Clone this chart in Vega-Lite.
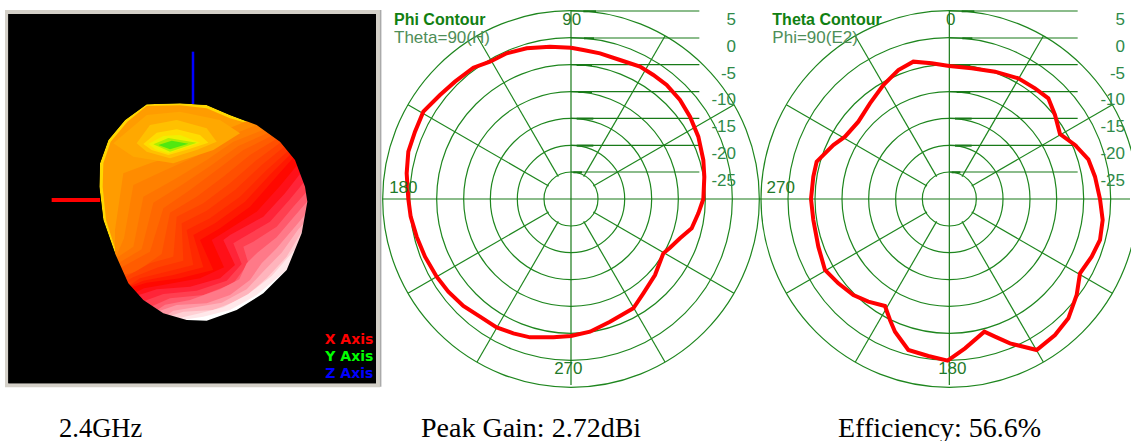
{
"$schema":"https://vega.github.io/schema/vega-lite/v6.json",
"padding":0,"spacing":0,"bounds":"flush","background":"white",
"config":{"view":{"stroke":null},"concat":{"spacing":0}},
"datasets":{
"frame":[{"x":15,"x2":1140,"y":30,"y2":1162,"c":"#d4d0c8"},{"x":25,"x2":1128,"y":42,"y2":1150,"c":"#000000"}],
"mask":[{"i":1,"x":25,"y":560},{"i":2,"x":25,"y":42},{"i":3,"x":1128,"y":42},{"i":4,"x":1128,"y":1150},{"i":5,"x":25,"y":1150},{"i":6,"x":25,"y":560},{"i":7,"x":298,"y":560},{"i":8,"x":310,"y":660},{"i":9,"x":345,"y":760},{"i":10,"x":385,"y":850},{"i":11,"x":430,"y":900},{"i":12,"x":490,"y":940},{"i":13,"x":560,"y":960},{"i":14,"x":620,"y":962},{"i":15,"x":710,"y":930},{"i":16,"x":790,"y":880},{"i":17,"x":860,"y":810},{"i":18,"x":905,"y":700},{"i":19,"x":922,"y":605},{"i":20,"x":915,"y":560},{"i":21,"x":885,"y":480},{"i":22,"x":840,"y":425},{"i":23,"x":770,"y":375},{"i":24,"x":690,"y":345},{"i":25,"x":620,"y":315},{"i":26,"x":540,"y":310},{"i":27,"x":440,"y":313},{"i":28,"x":375,"y":360},{"i":29,"x":325,"y":420},{"i":30,"x":300,"y":490},{"i":31,"x":298,"y":560}],
"blob":[
{"p":"a00","i":1,"x":440,"y":313},{"p":"a00","i":2,"x":540,"y":310},{"p":"a00","i":3,"x":620,"y":315},{"p":"a00","i":4,"x":690,"y":345},{"p":"a00","i":5,"x":770,"y":375},{"p":"a00","i":6,"x":840,"y":425},{"p":"a00","i":7,"x":885,"y":480},{"p":"a00","i":8,"x":915,"y":560},{"p":"a00","i":9,"x":922,"y":605},{"p":"a00","i":10,"x":905,"y":700},{"p":"a00","i":11,"x":860,"y":810},{"p":"a00","i":12,"x":790,"y":880},{"p":"a00","i":13,"x":710,"y":930},{"p":"a00","i":14,"x":620,"y":962},{"p":"a00","i":15,"x":560,"y":960},{"p":"a00","i":16,"x":490,"y":940},{"p":"a00","i":17,"x":430,"y":900},{"p":"a00","i":18,"x":385,"y":850},{"p":"a00","i":19,"x":345,"y":760},{"p":"a00","i":20,"x":310,"y":660},{"p":"a00","i":21,"x":298,"y":560},{"p":"a00","i":22,"x":300,"y":490},{"p":"a00","i":23,"x":325,"y":420},{"p":"a00","i":24,"x":375,"y":360},
{"p":"a01","i":1,"x":440,"y":318},{"p":"a01","i":2,"x":540,"y":316},{"p":"a01","i":3,"x":620,"y":325},{"p":"a01","i":4,"x":690,"y":355},{"p":"a01","i":5,"x":770,"y":378},{"p":"a01","i":6,"x":840,"y":425},{"p":"a01","i":7,"x":885,"y":480},{"p":"a01","i":8,"x":915,"y":560},{"p":"a01","i":9,"x":922,"y":605},{"p":"a01","i":10,"x":905,"y":700},{"p":"a01","i":11,"x":860,"y":810},{"p":"a01","i":12,"x":790,"y":880},{"p":"a01","i":13,"x":710,"y":930},{"p":"a01","i":14,"x":620,"y":962},{"p":"a01","i":15,"x":560,"y":960},{"p":"a01","i":16,"x":490,"y":940},{"p":"a01","i":17,"x":430,"y":900},{"p":"a01","i":18,"x":385,"y":850},{"p":"a01","i":19,"x":350,"y":760},{"p":"a01","i":20,"x":318,"y":660},{"p":"a01","i":21,"x":308,"y":560},{"p":"a01","i":22,"x":310,"y":490},{"p":"a01","i":23,"x":332,"y":425},{"p":"a01","i":24,"x":382,"y":365},
{"p":"c01","i":1,"x":800,"y":340},{"p":"c01","i":2,"x":660,"y":395},{"p":"c01","i":3,"x":560,"y":455},{"p":"c01","i":4,"x":450,"y":490},{"p":"c01","i":5,"x":370,"y":520},{"p":"c01","i":6,"x":345,"y":690},{"p":"c01","i":7,"x":345,"y":760},{"p":"c01","i":8,"x":340,"y":790},{"p":"c01","i":9,"x":300,"y":800},{"p":"c01","i":10,"x":280,"y":820},{"p":"c01","i":11,"x":280,"y":1140},{"p":"c01","i":12,"x":1120,"y":1140},{"p":"c01","i":13,"x":1120,"y":340},
{"p":"c02","i":1,"x":820,"y":355},{"p":"c02","i":2,"x":680,"y":410},{"p":"c02","i":3,"x":590,"y":468},{"p":"c02","i":4,"x":485,"y":515},{"p":"c02","i":5,"x":400,"y":555},{"p":"c02","i":6,"x":372,"y":715},{"p":"c02","i":7,"x":350,"y":765},{"p":"c02","i":8,"x":340,"y":788},{"p":"c02","i":9,"x":305,"y":805},{"p":"c02","i":10,"x":285,"y":825},{"p":"c02","i":11,"x":285,"y":1140},{"p":"c02","i":12,"x":1120,"y":1140},{"p":"c02","i":13,"x":1120,"y":355},
{"p":"c03","i":1,"x":840,"y":370},{"p":"c03","i":2,"x":700,"y":425},{"p":"c03","i":3,"x":620,"y":480},{"p":"c03","i":4,"x":520,"y":540},{"p":"c03","i":5,"x":430,"y":590},{"p":"c03","i":6,"x":400,"y":740},{"p":"c03","i":7,"x":355,"y":770},{"p":"c03","i":8,"x":340,"y":785},{"p":"c03","i":9,"x":310,"y":810},{"p":"c03","i":10,"x":290,"y":830},{"p":"c03","i":11,"x":290,"y":1140},{"p":"c03","i":12,"x":1120,"y":1140},{"p":"c03","i":13,"x":1120,"y":370},
{"p":"c04","i":1,"x":850,"y":378},{"p":"c04","i":2,"x":715,"y":438},{"p":"c04","i":3,"x":635,"y":495},{"p":"c04","i":4,"x":545,"y":555},{"p":"c04","i":5,"x":460,"y":608},{"p":"c04","i":6,"x":425,"y":748},{"p":"c04","i":7,"x":362,"y":785},{"p":"c04","i":8,"x":340,"y":800},{"p":"c04","i":9,"x":315,"y":820},{"p":"c04","i":10,"x":295,"y":840},{"p":"c04","i":11,"x":295,"y":1140},{"p":"c04","i":12,"x":1120,"y":1140},{"p":"c04","i":13,"x":1120,"y":378},
{"p":"c05","i":1,"x":860,"y":385},{"p":"c05","i":2,"x":730,"y":450},{"p":"c05","i":3,"x":650,"y":510},{"p":"c05","i":4,"x":570,"y":570},{"p":"c05","i":5,"x":490,"y":625},{"p":"c05","i":6,"x":450,"y":755},{"p":"c05","i":7,"x":368,"y":800},{"p":"c05","i":8,"x":340,"y":815},{"p":"c05","i":9,"x":320,"y":830},{"p":"c05","i":10,"x":300,"y":850},{"p":"c05","i":11,"x":300,"y":1140},{"p":"c05","i":12,"x":1120,"y":1140},{"p":"c05","i":13,"x":1120,"y":385},
{"p":"c06","i":1,"x":870,"y":392},{"p":"c06","i":2,"x":750,"y":465},{"p":"c06","i":3,"x":670,"y":530},{"p":"c06","i":4,"x":590,"y":590},{"p":"c06","i":5,"x":510,"y":638},{"p":"c06","i":6,"x":485,"y":762},{"p":"c06","i":7,"x":409,"y":815},{"p":"c06","i":8,"x":359,"y":828},{"p":"c06","i":9,"x":335,"y":845},{"p":"c06","i":10,"x":310,"y":855},{"p":"c06","i":11,"x":310,"y":1140},{"p":"c06","i":12,"x":1120,"y":1140},{"p":"c06","i":13,"x":1120,"y":392},
{"p":"c07","i":1,"x":880,"y":400},{"p":"c07","i":2,"x":770,"y":480},{"p":"c07","i":3,"x":690,"y":550},{"p":"c07","i":4,"x":610,"y":610},{"p":"c07","i":5,"x":530,"y":650},{"p":"c07","i":6,"x":520,"y":770},{"p":"c07","i":7,"x":450,"y":790},{"p":"c07","i":8,"x":378,"y":830},{"p":"c07","i":9,"x":350,"y":840},{"p":"c07","i":10,"x":320,"y":860},{"p":"c07","i":11,"x":320,"y":1140},{"p":"c07","i":12,"x":1120,"y":1140},{"p":"c07","i":13,"x":1120,"y":400},
{"p":"c08","i":1,"x":888,"y":412},{"p":"c08","i":2,"x":785,"y":495},{"p":"c08","i":3,"x":705,"y":570},{"p":"c08","i":4,"x":620,"y":632},{"p":"c08","i":5,"x":545,"y":670},{"p":"c08","i":6,"x":550,"y":782},{"p":"c08","i":7,"x":475,"y":802},{"p":"c08","i":8,"x":399,"y":832},{"p":"c08","i":9,"x":370,"y":848},{"p":"c08","i":10,"x":330,"y":870},{"p":"c08","i":11,"x":330,"y":1140},{"p":"c08","i":12,"x":1120,"y":1140},{"p":"c08","i":13,"x":1120,"y":412},
{"p":"c09","i":1,"x":895,"y":425},{"p":"c09","i":2,"x":800,"y":510},{"p":"c09","i":3,"x":720,"y":590},{"p":"c09","i":4,"x":630,"y":655},{"p":"c09","i":5,"x":560,"y":690},{"p":"c09","i":6,"x":580,"y":795},{"p":"c09","i":7,"x":500,"y":815},{"p":"c09","i":8,"x":420,"y":835},{"p":"c09","i":9,"x":390,"y":855},{"p":"c09","i":10,"x":340,"y":880},{"p":"c09","i":11,"x":340,"y":1140},{"p":"c09","i":12,"x":1120,"y":1140},{"p":"c09","i":13,"x":1120,"y":425},
{"p":"c10","i":1,"x":900,"y":435},{"p":"c10","i":2,"x":812,"y":522},{"p":"c10","i":3,"x":735,"y":605},{"p":"c10","i":4,"x":645,"y":670},{"p":"c10","i":5,"x":580,"y":705},{"p":"c10","i":6,"x":610,"y":802},{"p":"c10","i":7,"x":520,"y":825},{"p":"c10","i":8,"x":430,"y":842},{"p":"c10","i":9,"x":392,"y":858},{"p":"c10","i":10,"x":345,"y":890},{"p":"c10","i":11,"x":345,"y":1140},{"p":"c10","i":12,"x":1120,"y":1140},{"p":"c10","i":13,"x":1120,"y":435},
{"p":"c11","i":1,"x":905,"y":445},{"p":"c11","i":2,"x":825,"y":535},{"p":"c11","i":3,"x":750,"y":620},{"p":"c11","i":4,"x":660,"y":685},{"p":"c11","i":5,"x":600,"y":720},{"p":"c11","i":6,"x":640,"y":810},{"p":"c11","i":7,"x":540,"y":835},{"p":"c11","i":8,"x":440,"y":848},{"p":"c11","i":9,"x":395,"y":862},{"p":"c11","i":10,"x":350,"y":900},{"p":"c11","i":11,"x":350,"y":1140},{"p":"c11","i":12,"x":1120,"y":1140},{"p":"c11","i":13,"x":1120,"y":445},
{"p":"c12","i":1,"x":922,"y":458},{"p":"c12","i":2,"x":840,"y":558},{"p":"c12","i":3,"x":770,"y":635},{"p":"c12","i":4,"x":675,"y":695},{"p":"c12","i":5,"x":635,"y":720},{"p":"c12","i":6,"x":672,"y":802},{"p":"c12","i":7,"x":600,"y":835},{"p":"c12","i":8,"x":505,"y":852},{"p":"c12","i":9,"x":432,"y":865},{"p":"c12","i":10,"x":360,"y":900},{"p":"c12","i":11,"x":360,"y":1140},{"p":"c12","i":12,"x":1120,"y":1140},{"p":"c12","i":13,"x":1120,"y":458},
{"p":"c13","i":1,"x":940,"y":470},{"p":"c13","i":2,"x":855,"y":580},{"p":"c13","i":3,"x":790,"y":650},{"p":"c13","i":4,"x":690,"y":705},{"p":"c13","i":5,"x":670,"y":720},{"p":"c13","i":6,"x":705,"y":795},{"p":"c13","i":7,"x":660,"y":835},{"p":"c13","i":8,"x":570,"y":860},{"p":"c13","i":9,"x":470,"y":868},{"p":"c13","i":10,"x":370,"y":900},{"p":"c13","i":11,"x":370,"y":1140},{"p":"c13","i":12,"x":1120,"y":1140},{"p":"c13","i":13,"x":1120,"y":470},
{"p":"c14","i":1,"x":950,"y":500},{"p":"c14","i":2,"x":868,"y":600},{"p":"c14","i":3,"x":810,"y":665},{"p":"c14","i":4,"x":725,"y":715},{"p":"c14","i":5,"x":700,"y":730},{"p":"c14","i":6,"x":725,"y":792},{"p":"c14","i":7,"x":680,"y":842},{"p":"c14","i":8,"x":590,"y":872},{"p":"c14","i":9,"x":490,"y":882},{"p":"c14","i":10,"x":400,"y":915},{"p":"c14","i":11,"x":400,"y":1140},{"p":"c14","i":12,"x":1120,"y":1140},{"p":"c14","i":13,"x":1120,"y":500},
{"p":"c15","i":1,"x":960,"y":530},{"p":"c15","i":2,"x":880,"y":620},{"p":"c15","i":3,"x":830,"y":680},{"p":"c15","i":4,"x":760,"y":725},{"p":"c15","i":5,"x":730,"y":740},{"p":"c15","i":6,"x":745,"y":790},{"p":"c15","i":7,"x":700,"y":850},{"p":"c15","i":8,"x":610,"y":885},{"p":"c15","i":9,"x":510,"y":895},{"p":"c15","i":10,"x":430,"y":930},{"p":"c15","i":11,"x":430,"y":1140},{"p":"c15","i":12,"x":1120,"y":1140},{"p":"c15","i":13,"x":1120,"y":530},
{"p":"c16","i":1,"x":960,"y":560},{"p":"c16","i":2,"x":882,"y":650},{"p":"c16","i":3,"x":830,"y":712},{"p":"c16","i":4,"x":772,"y":758},{"p":"c16","i":5,"x":740,"y":790},{"p":"c16","i":6,"x":718,"y":838},{"p":"c16","i":7,"x":660,"y":868},{"p":"c16","i":8,"x":570,"y":900},{"p":"c16","i":9,"x":495,"y":914},{"p":"c16","i":10,"x":435,"y":955},{"p":"c16","i":11,"x":435,"y":1140},{"p":"c16","i":12,"x":1120,"y":1140},{"p":"c16","i":13,"x":1120,"y":560},
{"p":"c17","i":1,"x":960,"y":590},{"p":"c17","i":2,"x":885,"y":680},{"p":"c17","i":3,"x":830,"y":745},{"p":"c17","i":4,"x":785,"y":790},{"p":"c17","i":5,"x":750,"y":840},{"p":"c17","i":6,"x":690,"y":885},{"p":"c17","i":7,"x":620,"y":910},{"p":"c17","i":8,"x":530,"y":915},{"p":"c17","i":9,"x":480,"y":932},{"p":"c17","i":10,"x":440,"y":980},{"p":"c17","i":11,"x":440,"y":1140},{"p":"c17","i":12,"x":1120,"y":1140},{"p":"c17","i":13,"x":1120,"y":590},
{"p":"c18","i":1,"x":955,"y":625},{"p":"c18","i":2,"x":895,"y":688},{"p":"c18","i":3,"x":845,"y":758},{"p":"c18","i":4,"x":792,"y":812},{"p":"c18","i":5,"x":740,"y":868},{"p":"c18","i":6,"x":665,"y":908},{"p":"c18","i":7,"x":585,"y":922},{"p":"c18","i":8,"x":520,"y":932},{"p":"c18","i":9,"x":485,"y":956},{"p":"c18","i":10,"x":455,"y":1000},{"p":"c18","i":11,"x":455,"y":1140},{"p":"c18","i":12,"x":1120,"y":1140},{"p":"c18","i":13,"x":1120,"y":625},
{"p":"c19","i":1,"x":950,"y":660},{"p":"c19","i":2,"x":905,"y":695},{"p":"c19","i":3,"x":860,"y":770},{"p":"c19","i":4,"x":800,"y":835},{"p":"c19","i":5,"x":730,"y":895},{"p":"c19","i":6,"x":640,"y":930},{"p":"c19","i":7,"x":550,"y":935},{"p":"c19","i":8,"x":510,"y":948},{"p":"c19","i":9,"x":490,"y":980},{"p":"c19","i":10,"x":470,"y":1020},{"p":"c19","i":11,"x":470,"y":1140},{"p":"c19","i":12,"x":1120,"y":1140},{"p":"c19","i":13,"x":1120,"y":660},
{"p":"c20","i":1,"x":925,"y":720},{"p":"c20","i":2,"x":878,"y":756},{"p":"c20","i":3,"x":815,"y":828},{"p":"c20","i":4,"x":745,"y":882},{"p":"c20","i":5,"x":670,"y":922},{"p":"c20","i":6,"x":600,"y":940},{"p":"c20","i":7,"x":535,"y":955},{"p":"c20","i":8,"x":500,"y":965},{"p":"c20","i":9,"x":495,"y":995},{"p":"c20","i":10,"x":475,"y":1030},{"p":"c20","i":11,"x":475,"y":1140},{"p":"c20","i":12,"x":1120,"y":1140},{"p":"c20","i":13,"x":1120,"y":720},
{"p":"c21","i":1,"x":900,"y":780},{"p":"c21","i":2,"x":850,"y":818},{"p":"c21","i":3,"x":770,"y":885},{"p":"c21","i":4,"x":690,"y":930},{"p":"c21","i":5,"x":610,"y":950},{"p":"c21","i":6,"x":560,"y":958},{"p":"c21","i":7,"x":520,"y":975},{"p":"c21","i":8,"x":510,"y":990},{"p":"c21","i":9,"x":500,"y":1010},{"p":"c21","i":10,"x":480,"y":1040},{"p":"c21","i":11,"x":480,"y":1140},{"p":"c21","i":12,"x":1120,"y":1140},{"p":"c21","i":13,"x":1120,"y":780},
{"p":"d01","i":1,"x":340,"y":430},{"p":"d01","i":2,"x":440,"y":345},{"p":"d01","i":3,"x":540,"y":335},{"p":"d01","i":4,"x":660,"y":360},{"p":"d01","i":5,"x":720,"y":400},{"p":"d01","i":6,"x":640,"y":450},{"p":"d01","i":7,"x":520,"y":490},{"p":"d01","i":8,"x":400,"y":470},
{"p":"d02","i":1,"x":410,"y":430},{"p":"d02","i":2,"x":450,"y":375},{"p":"d02","i":3,"x":530,"y":360},{"p":"d02","i":4,"x":620,"y":385},{"p":"d02","i":5,"x":650,"y":425},{"p":"d02","i":6,"x":590,"y":450},{"p":"d02","i":7,"x":510,"y":475},{"p":"d02","i":8,"x":440,"y":455},
{"p":"d03","i":1,"x":430,"y":432},{"p":"d03","i":2,"x":470,"y":398},{"p":"d03","i":3,"x":530,"y":388},{"p":"d03","i":4,"x":600,"y":405},{"p":"d03","i":5,"x":625,"y":428},{"p":"d03","i":6,"x":565,"y":448},{"p":"d03","i":7,"x":505,"y":465},{"p":"d03","i":8,"x":455,"y":450},
{"p":"d04","i":1,"x":445,"y":432},{"p":"d04","i":2,"x":490,"y":408},{"p":"d04","i":3,"x":540,"y":405},{"p":"d04","i":4,"x":600,"y":428},{"p":"d04","i":5,"x":550,"y":445},{"p":"d04","i":6,"x":505,"y":460},{"p":"d04","i":7,"x":465,"y":448},
{"p":"d05","i":1,"x":460,"y":433},{"p":"d05","i":2,"x":505,"y":414},{"p":"d05","i":3,"x":590,"y":428},{"p":"d05","i":4,"x":510,"y":455},
{"p":"d06","i":1,"x":475,"y":435},{"p":"d06","i":2,"x":515,"y":422},{"p":"d06","i":3,"x":565,"y":431},{"p":"d06","i":4,"x":510,"y":448}
],
"axes3d":[{"x":155,"x2":300,"y":600,"y2":600,"c":"#ff0000","w":4},{"x":579,"x2":579,"y":155,"y2":312,"c":"#0000ff","w":2.5}],
"legend3d":[{"t":"X Axis","x":1120,"y":1032,"c":"#ff0000"},{"t":"Y Axis","x":1120,"y":1083,"c":"#00ff00"},{"t":"Z Axis","x":1120,"y":1133,"c":"#0000ff"}],
"cap1":[{"t":"2.4GHz","x":177,"y":1311}],
"rings":[{"r":81},{"r":161},{"r":242},{"r":322},{"r":403},{"r":484},{"r":565}],
"spokes":[{"a":640,"b":558,"c":1062,"d":314},{"a":506,"b":558,"c":84,"d":314},{"a":506,"b":636,"c":84,"d":880},{"a":640,"b":636,"c":1062,"d":880},{"a":611,"b":530,"c":855,"d":108},{"a":535,"b":530,"c":291,"d":108},{"a":535,"b":664,"c":291,"d":1086},{"a":611,"b":664,"c":855,"d":1086}],
"hl":[{"y":33},{"y":114},{"y":194},{"y":275},{"y":355},{"y":436},{"y":516}],
"dash":[{"a":610,"c":648,"y":34},{"a":612,"c":642,"y":115},{"a":590,"c":636,"y":195},{"a":595,"c":636,"y":276},{"a":590,"c":640,"y":356},{"a":590,"c":640,"y":437},{"a":580,"c":606,"y":517}],
"trace1":[{"i":1,"x":573,"y":143},{"i":2,"x":510,"y":140},{"i":3,"x":440,"y":145},{"i":4,"x":380,"y":160},{"i":5,"x":330,"y":185},{"i":6,"x":280,"y":203},{"i":7,"x":225,"y":245},{"i":8,"x":180,"y":285},{"i":9,"x":130,"y":335},{"i":10,"x":105,"y":395},{"i":11,"x":85,"y":455},{"i":12,"x":80,"y":520},{"i":13,"x":85,"y":597},{"i":14,"x":92,"y":650},{"i":15,"x":110,"y":710},{"i":16,"x":135,"y":770},{"i":17,"x":170,"y":830},{"i":18,"x":205,"y":875},{"i":19,"x":250,"y":918},{"i":20,"x":300,"y":950},{"i":21,"x":350,"y":982},{"i":22,"x":400,"y":1000},{"i":23,"x":450,"y":1012},{"i":24,"x":520,"y":1012},{"i":25,"x":573,"y":1008},{"i":26,"x":630,"y":995},{"i":27,"x":690,"y":965},{"i":28,"x":760,"y":925},{"i":29,"x":790,"y":880},{"i":30,"x":825,"y":825},{"i":31,"x":850,"y":760},{"i":32,"x":870,"y":743},{"i":33,"x":900,"y":715},{"i":34,"x":935,"y":685},{"i":35,"x":955,"y":640},{"i":36,"x":970,"y":597},{"i":37,"x":973,"y":530},{"i":38,"x":970,"y":480},{"i":39,"x":955,"y":410},{"i":40,"x":930,"y":350},{"i":41,"x":900,"y":300},{"i":42,"x":860,"y":255},{"i":43,"x":820,"y":225},{"i":44,"x":780,"y":200},{"i":45,"x":720,"y":180},{"i":46,"x":660,"y":160},{"i":47,"x":610,"y":150},{"i":48,"x":573,"y":143}],
"trace2":[{"i":1,"x":583,"y":198},{"i":2,"x":530,"y":190},{"i":3,"x":475,"y":185},{"i":4,"x":430,"y":210},{"i":5,"x":385,"y":255},{"i":6,"x":345,"y":310},{"i":7,"x":310,"y":365},{"i":8,"x":270,"y":410},{"i":9,"x":235,"y":435},{"i":10,"x":185,"y":485},{"i":11,"x":175,"y":530},{"i":12,"x":168,"y":597},{"i":13,"x":175,"y":660},{"i":14,"x":190,"y":740},{"i":15,"x":210,"y":810},{"i":16,"x":250,"y":850},{"i":17,"x":295,"y":885},{"i":18,"x":340,"y":905},{"i":19,"x":390,"y":918},{"i":20,"x":405,"y":960},{"i":21,"x":420,"y":995},{"i":22,"x":460,"y":1050},{"i":23,"x":520,"y":1068},{"i":24,"x":578,"y":1082},{"i":25,"x":630,"y":1045},{"i":26,"x":688,"y":995},{"i":27,"x":720,"y":1010},{"i":28,"x":765,"y":1030},{"i":29,"x":845,"y":1050},{"i":30,"x":900,"y":1005},{"i":31,"x":940,"y":955},{"i":32,"x":965,"y":885},{"i":33,"x":975,"y":820},{"i":34,"x":1010,"y":770},{"i":35,"x":1035,"y":720},{"i":36,"x":1043,"y":660},{"i":37,"x":1035,"y":597},{"i":38,"x":1020,"y":530},{"i":39,"x":1000,"y":478},{"i":40,"x":960,"y":435},{"i":41,"x":915,"y":402},{"i":42,"x":900,"y":345},{"i":43,"x":880,"y":295},{"i":44,"x":840,"y":265},{"i":45,"x":790,"y":235},{"i":46,"x":720,"y":215},{"i":47,"x":650,"y":205},{"i":48,"x":583,"y":198}],
"db":[{"t":"5","y":60},{"t":"0","y":140},{"t":"-5","y":221},{"t":"-10","y":301},{"t":"-15","y":382},{"t":"-20","y":463},{"t":"-25","y":543}]
},
"hconcat":[
{"width":380,"height":441,"layer":[
{"data":{"name":"frame"},"mark":{"type":"rect"},"encoding":{"x":{"field":"x","type":"quantitative","scale":{"domain":[0,1140],"nice":false,"zero":false},"axis":null},"x2":{"field":"x2"},"y":{"field":"y","type":"quantitative","scale":{"domain":[1323,0],"nice":false,"zero":false},"axis":null},"y2":{"field":"y2"},"fill":{"field":"c","type":"nominal","scale":null}}},
{"data":{"name":"blob"},"mark":{"type":"line","interpolate":"linear-closed","strokeWidth":0},"encoding":{"x":{"field":"x","type":"quantitative"},"y":{"field":"y","type":"quantitative"},"order":{"field":"i","type":"quantitative"},"detail":{"field":"p","type":"nominal"},"fill":{"field":"p","type":"nominal","legend":null,"scale":{"domain":["a00","a01","c01","c02","c03","c04","c05","c06","c07","c08","c09","c10","c11","c12","c13","c14","c15","c16","c17","c18","c19","c20","c21","d01","d02","d03","d04","d05","d06"],"range":["#ffd800","#ff9c00","#ff8c00","#ff8000","#ff7400","#ff6800","#ff5c00","#ff4f00","#ff4200","#ff3500","#ff2800","#ff1800","#ff0800","#ff1018","#ff2438","#ff3f50","#ff5a6c","#ff7988","#ff98a4","#ffb4bc","#ffd0d4","#ffe8ea","#ffffff","#ffa800","#ffc000","#ffdc00","#f0f000","#b0ee00","#50e810"]}}}},
{"data":{"name":"mask"},"mark":{"type":"line","interpolate":"linear-closed","strokeWidth":0,"fill":"#000000"},"encoding":{"x":{"field":"x","type":"quantitative"},"y":{"field":"y","type":"quantitative"},"order":{"field":"i","type":"quantitative"}}},
{"data":{"name":"axes3d"},"mark":{"type":"rule"},"encoding":{"x":{"field":"x","type":"quantitative"},"x2":{"field":"x2"},"y":{"field":"y","type":"quantitative"},"y2":{"field":"y2"},"stroke":{"field":"c","type":"nominal","scale":null},"strokeWidth":{"field":"w","type":"quantitative","scale":null}}},
{"data":{"name":"legend3d"},"mark":{"type":"text","font":"DejaVu Sans","fontWeight":"bold","fontSize":14,"align":"right","baseline":"alphabetic"},"encoding":{"x":{"field":"x","type":"quantitative"},"y":{"field":"y","type":"quantitative"},"text":{"field":"t"},"color":{"field":"c","type":"nominal","scale":null}}},
{"data":{"name":"cap1"},"mark":{"type":"text","font":"Liberation Serif","fontSize":26.5,"align":"left","baseline":"alphabetic","color":"#000"},"encoding":{"x":{"field":"x","type":"quantitative"},"y":{"field":"y","type":"quantitative"},"text":{"field":"t"}}}
]},
{"width":375,"height":441,"layer":[
{"data":{"values":[{"x":2,"y":30,"y2":1160}]},"mark":{"type":"rule","color":"#aaaaaa","strokeWidth":1.5},"encoding":{"x":{"field":"x","type":"quantitative","scale":{"domain":[0,1125],"nice":false,"zero":false},"axis":null},"y":{"field":"y","type":"quantitative","scale":{"domain":[1323,0],"nice":false,"zero":false},"axis":null},"y2":{"field":"y2"}}},
{"data":{"name":"rings"},"mark":{"type":"point","filled":false,"color":"#1e861e","strokeWidth":1.2,"opacity":1,"shape":"circle"},"encoding":{"x":{"datum":573,"type":"quantitative"},"y":{"datum":597,"type":"quantitative"},"size":{"field":"r","type":"quantitative","legend":null,"scale":{"type":"pow","exponent":2,"domain":[0,600],"range":[0,160000]}}}},
{"data":{"name":"spokes"},"mark":{"type":"rule","color":"#1e861e","strokeWidth":1.2},"encoding":{"x":{"field":"a","type":"quantitative"},"x2":{"field":"c"},"y":{"field":"b","type":"quantitative"},"y2":{"field":"d"}}},
{"data":{"name":"hl"},"mark":{"type":"rule","color":"#187a18","strokeWidth":1.2},"encoding":{"x":{"datum":573,"type":"quantitative"},"x2":{"datum":958},"y":{"field":"y","type":"quantitative"}}},
{"data":{"name":"dash"},"mark":{"type":"rule","color":"#187a18","strokeWidth":2},"encoding":{"x":{"field":"a","type":"quantitative"},"x2":{"field":"c"},"y":{"field":"y","type":"quantitative"}}},
{"data":{"values":[{"a":8,"c":1125,"b":597,"d":597},{"a":573,"c":573,"b":33,"d":1155}]},"mark":{"type":"rule","color":"#187a18","strokeWidth":1.2},"encoding":{"x":{"field":"a","type":"quantitative"},"x2":{"field":"c"},"y":{"field":"b","type":"quantitative"},"y2":{"field":"d"}}},
{"data":{"name":"trace1"},"mark":{"type":"line","color":"#ff0000","strokeWidth":4,"interpolate":"linear"},"encoding":{"x":{"field":"x","type":"quantitative"},"y":{"field":"y","type":"quantitative"},"order":{"field":"i","type":"quantitative"}}},
{"data":{"name":"db"},"mark":{"type":"text","font":"Liberation Sans","fontSize":17,"align":"right","baseline":"middle","color":"#2f8a4a"},"encoding":{"x":{"datum":1068,"type":"quantitative"},"y":{"field":"y","type":"quantitative"},"text":{"field":"t"}}},
{"data":{"values":[{"t":"90","x":575,"y":60},{"t":"270","x":565,"y":1108},{"t":"180","x":70,"y":565}]},"mark":{"type":"text","font":"Liberation Sans","fontSize":17,"align":"center","baseline":"middle","color":"#1f7a2a"},"encoding":{"x":{"field":"x","type":"quantitative"},"y":{"field":"y","type":"quantitative"},"text":{"field":"t"}}},
{"data":{"values":[{"t":"Phi Contour","x":42,"y":60}]},"mark":{"type":"text","font":"Liberation Sans","fontSize":16,"fontWeight":"bold","align":"left","baseline":"middle","color":"#118011"},"encoding":{"x":{"field":"x","type":"quantitative"},"y":{"field":"y","type":"quantitative"},"text":{"field":"t"}}},
{"data":{"values":[{"t":"Theta=90(H)","x":42,"y":115}]},"mark":{"type":"text","font":"Liberation Sans","fontSize":17,"align":"left","baseline":"middle","color":"#4e8e58"},"encoding":{"x":{"field":"x","type":"quantitative"},"y":{"field":"y","type":"quantitative"},"text":{"field":"t"}}},
{"data":{"values":[{"t":"Peak Gain: 2.72dBi","x":123,"y":1311}]},"mark":{"type":"text","font":"Liberation Serif","fontSize":28,"align":"left","baseline":"alphabetic","color":"#000"},"encoding":{"x":{"field":"x","type":"quantitative"},"y":{"field":"y","type":"quantitative"},"text":{"field":"t"}}}
]},
{"width":376,"height":441,"layer":[
{"data":{"name":"rings"},"mark":{"type":"point","filled":false,"color":"#1e861e","strokeWidth":1.2,"opacity":1,"shape":"circle"},"encoding":{"x":{"datum":583,"type":"quantitative","scale":{"domain":[0,1128],"nice":false,"zero":false},"axis":null},"y":{"datum":597,"type":"quantitative","scale":{"domain":[1323,0],"nice":false,"zero":false},"axis":null},"size":{"field":"r","type":"quantitative","legend":null,"scale":{"type":"pow","exponent":2,"domain":[0,600],"range":[0,160000]}}}},
{"data":{"name":"spokes"},"mark":{"type":"rule","color":"#1e861e","strokeWidth":1.2,"xOffset":3.33,"x2Offset":3.33},"encoding":{"x":{"field":"a","type":"quantitative"},"x2":{"field":"c"},"y":{"field":"b","type":"quantitative"},"y2":{"field":"d"}}},
{"data":{"name":"hl"},"mark":{"type":"rule","color":"#187a18","strokeWidth":1.2},"encoding":{"x":{"datum":583,"type":"quantitative"},"x2":{"datum":968},"y":{"field":"y","type":"quantitative"}}},
{"data":{"name":"dash"},"mark":{"type":"rule","color":"#187a18","strokeWidth":2,"xOffset":3.33,"x2Offset":3.33},"encoding":{"x":{"field":"a","type":"quantitative"},"x2":{"field":"c"},"y":{"field":"y","type":"quantitative"}}},
{"data":{"values":[{"a":0,"c":1125,"b":597,"d":597},{"a":583,"c":583,"b":33,"d":1155}]},"mark":{"type":"rule","color":"#187a18","strokeWidth":1.2},"encoding":{"x":{"field":"a","type":"quantitative"},"x2":{"field":"c"},"y":{"field":"b","type":"quantitative"},"y2":{"field":"d"}}},
{"data":{"name":"trace2"},"mark":{"type":"line","color":"#ff0000","strokeWidth":4,"interpolate":"linear"},"encoding":{"x":{"field":"x","type":"quantitative"},"y":{"field":"y","type":"quantitative"},"order":{"field":"i","type":"quantitative"}}},
{"data":{"name":"db"},"mark":{"type":"text","font":"Liberation Sans","fontSize":17,"align":"right","baseline":"middle","color":"#2f8a4a"},"encoding":{"x":{"datum":1110,"type":"quantitative"},"y":{"field":"y","type":"quantitative"},"text":{"field":"t"}}},
{"data":{"values":[{"t":"0","x":587,"y":60},{"t":"180","x":592,"y":1108},{"t":"270","x":77,"y":565}]},"mark":{"type":"text","font":"Liberation Sans","fontSize":17,"align":"center","baseline":"middle","color":"#1f7a2a"},"encoding":{"x":{"field":"x","type":"quantitative"},"y":{"field":"y","type":"quantitative"},"text":{"field":"t"}}},
{"data":{"values":[{"t":"Theta Contour","x":52,"y":60}]},"mark":{"type":"text","font":"Liberation Sans","fontSize":16,"fontWeight":"bold","align":"left","baseline":"middle","color":"#118011"},"encoding":{"x":{"field":"x","type":"quantitative"},"y":{"field":"y","type":"quantitative"},"text":{"field":"t"}}},
{"data":{"values":[{"t":"Phi=90(E2)","x":52,"y":115}]},"mark":{"type":"text","font":"Liberation Sans","fontSize":17,"align":"left","baseline":"middle","color":"#4e8e58"},"encoding":{"x":{"field":"x","type":"quantitative"},"y":{"field":"y","type":"quantitative"},"text":{"field":"t"}}},
{"data":{"values":[{"t":"Efficiency: 56.6%","x":249,"y":1311}]},"mark":{"type":"text","font":"Liberation Serif","fontSize":28,"align":"left","baseline":"alphabetic","color":"#000"},"encoding":{"x":{"field":"x","type":"quantitative"},"y":{"field":"y","type":"quantitative"},"text":{"field":"t"}}}
]}
]
}
